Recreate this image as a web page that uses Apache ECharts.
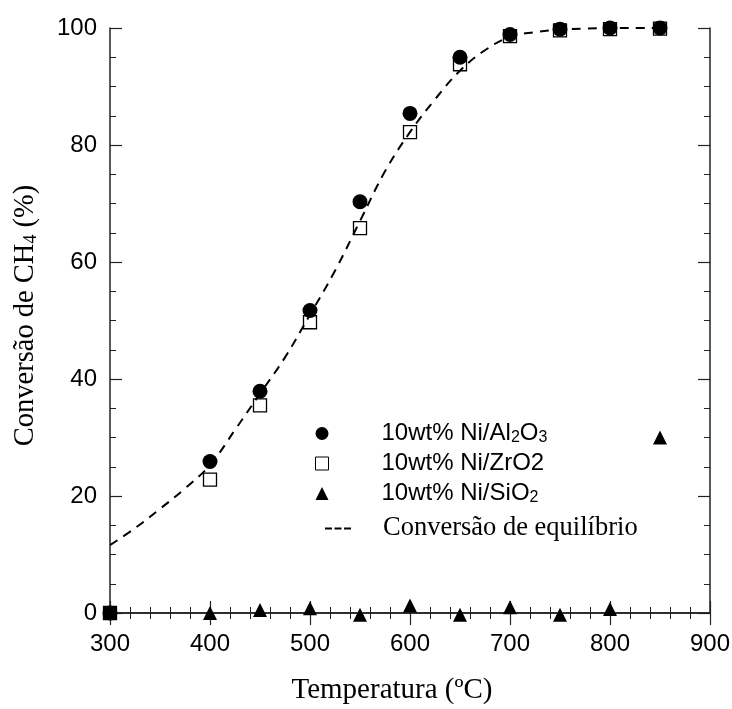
<!DOCTYPE html>
<html>
<head>
<meta charset="utf-8">
<script src="https://cdn.jsdelivr.net/npm/echarts/dist/echarts.min.js"></script>
<style>
  html, body { margin: 0; padding: 0; background: #fff; }
  #chart { width: 732px; height: 709px; }
</style>
</head>
<body>
<div id="chart"></div>
<script>
// temperaturas (ºC) dos ensaios
const temps = [300, 400, 450, 500, 550, 600, 650, 700, 750, 800, 850];
// conversão de CH4 (%) por catalisador
const niAl2O3 = [0, 25.9, 37.9, 51.7, 70.3, 85.4, 95.0, 98.9, 99.8, 100, 100];
const niZrO2 = [0, 22.8, 35.5, 49.7, 65.8, 82.2, 93.8, 98.6, 99.6, 99.8, 99.9];
const niSiO2 = [0, 0, 0.5, 0.8, -0.3, 1.3, -0.3, 1.0, -0.3, 0.7, 30.0];
// curva de equilíbrio
const eqTemps = [300, 325, 350, 375, 400, 425, 450, 475, 500, 525, 550, 575, 600, 625, 650, 675, 700, 725, 750, 775, 800, 825, 850];
const eqConv = [11.6, 14.5, 17.8, 21.3, 25.3, 31.3, 37.5, 43.7, 51.0, 58.5, 67.0, 75.5, 82.2, 87.8, 92.7, 96.2, 98.5, 99.3, 99.7, 99.9, 100, 100, 100];
// eixos
const xTicks = [300, 900, 100];
const yTicks = [0, 100, 20];

const SANS = '"Liberation Sans", Arial, sans-serif';
const SERIF = '"Liberation Serif", "Times New Roman", serif';

const legendLabels = {
  'Al2O3': '10wt% Ni/Al{sub|2}O{sub|3}',
  'ZrO2': '10wt% Ni/ZrO2',
  'SiO2': '10wt% Ni/SiO{sub|2}',
};

function pairs(xs, ys) {
  return xs.map((x, i) => [x, ys[i]]);
}

const chart = echarts.init(document.getElementById('chart'));

// eixo x (baixo e topo, só o de baixo com rótulos)
function xAxisDef(position, showLabel) {
  return {
    type: 'value',
    position: position,
    min: xTicks[0],
    max: xTicks[1],
    interval: xTicks[2],
    axisLine: { show: true, lineStyle: { color: '#222', width: 1.5 } },
    axisTick: { show: true, inside: true, length: 12, lineStyle: { color: '#222', width: 1.2 } },
    minorTick: { show: true, splitNumber: 5, length: 6, lineStyle: { color: '#222', width: 1 } },
    splitLine: { show: false },
    axisLabel: { show: showLabel, color: '#000', fontFamily: SANS, fontSize: 24, margin: 19 },
  };
}

function yAxisDef(position, showLabel) {
  return {
    type: 'value',
    position: position,
    min: yTicks[0],
    max: yTicks[1],
    interval: yTicks[2],
    axisLine: { show: true, lineStyle: { color: '#222', width: 1.5 } },
    axisTick: { show: true, inside: true, length: 12, lineStyle: { color: '#222', width: 1.2 } },
    minorTick: { show: true, splitNumber: 4, length: 6, lineStyle: { color: '#222', width: 1 } },
    splitLine: { show: false },
    axisLabel: { show: showLabel, color: '#000', fontFamily: SANS, fontSize: 24, margin: 13 },
  };
}

const xBottom = xAxisDef('bottom', true);
xBottom.name = 'Temperatura (ºC)';
xBottom.nameLocation = 'middle';
xBottom.nameGap = 63;
xBottom.nameTextStyle = { color: '#000', fontFamily: SERIF, fontSize: 29, padding: [0, 36, 0, 0] };

const yLeft = yAxisDef('left', true);
yLeft.name = 'Conversão de CH{s|4} (%)';
yLeft.nameLocation = 'middle';
yLeft.nameGap = 70;
yLeft.nameTextStyle = {
  color: '#000', fontFamily: SERIF, fontSize: 28.5, padding: [0, 0, 0, 10],
  rich: { s: { fontFamily: SERIF, fontSize: 18, color: '#000', verticalAlign: 'bottom', lineHeight: 12 } },
};

// ponto em 300 ºC aparece como quadrado cheio
const zrData = pairs(temps, niZrO2).map((p, i) =>
  i === 0 ? { value: p, itemStyle: { color: '#000' } } : p
);

const option = {
  animation: false,
  backgroundColor: '#fff',
  grid: { left: 110, right: 22, top: 28, bottom: 96, outerBoundsMode: 'none' },
  xAxis: [xBottom, xAxisDef('top', false)],
  yAxis: [yLeft, yAxisDef('right', false)],
  legend: [
    {
      orient: 'vertical',
      left: 310,
      top: 416,
      itemWidth: 13,
      itemHeight: 13,
      itemGap: 5,
      data: ['Al2O3', 'ZrO2', 'SiO2'],
      formatter: (name) => legendLabels[name],
      itemStyle: { borderWidth: 1 },
      textStyle: {
        color: '#000', fontFamily: SANS, fontSize: 24, lineHeight: 25,
        padding: [0, 0, 0, 48],
        rich: { sub: { fontFamily: SANS, fontSize: 16, color: '#000', verticalAlign: 'bottom', lineHeight: 10 } },
      },
    },
    {
      orient: 'vertical',
      left: 320,
      top: 510,
      itemWidth: 26,
      itemHeight: 3,
      data: [{ name: 'Conversão de equilíbrio', icon: 'path://M0,0h7v2h-7zM9.5,0h7v2h-7zM19,0h7v2h-7z' }],
      textStyle: { color: '#000', fontFamily: SERIF, fontSize: 26.5, padding: [0, 0, 0, 27] },
    },
  ],
  series: [
    {
      name: 'ZrO2',
      type: 'scatter',
      symbol: 'rect',
      symbolSize: 13,
      clip: false,
      itemStyle: { color: 'rgba(255,255,255,0)', borderColor: '#000', borderWidth: 1.3, opacity: 1 },
      data: zrData,
    },
    {
      name: 'Al2O3',
      type: 'scatter',
      symbol: 'circle',
      symbolSize: 15,
      clip: false,
      itemStyle: { color: '#000', opacity: 1 },
      data: pairs(temps, niAl2O3),
    },
    {
      name: 'SiO2',
      type: 'scatter',
      symbol: 'triangle',
      symbolSize: 14,
      clip: false,
      itemStyle: { color: '#000', opacity: 1 },
      data: pairs(temps, niSiO2),
    },
    {
      name: 'Conversão de equilíbrio',
      type: 'line',
      showSymbol: false,
      symbol: 'none',
      smooth: 0.4,
      color: '#000',
      lineStyle: { color: '#000', width: 2, type: [9, 7] },
      data: pairs(eqTemps, eqConv),
    },
  ],
};

chart.setOption(option);
</script>
</body>
</html>
